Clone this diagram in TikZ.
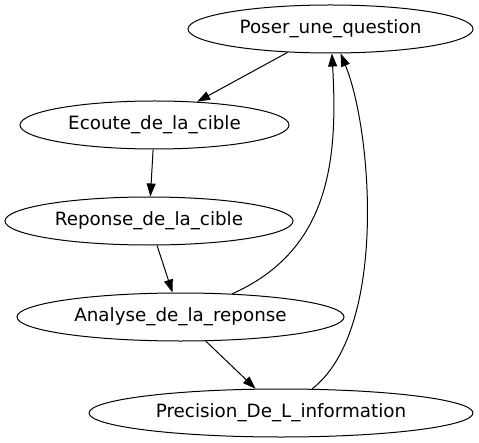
\documentclass[tikz,border=0pt]{standalone}
\usepackage{fontspec}
\setmainfont{DejaVu Sans}
\usepackage{tikz}
\usetikzlibrary{arrows.meta,shapes.geometric}
\tikzset{
  state/.style={draw, ellipse, inner sep=0pt, line width=1bp, minimum height=48bp, font=\fontsize{18.3bp}{22bp}\selectfont},
  edge/.style={-{Triangle[length=13bp,width=9bp]}, line width=1bp}
}

\begin{document}
\begin{tikzpicture}[x=1bp, y=-1bp]
    \useasboundingbox (0,0) rectangle (479,443);
    \node [state, minimum width=285bp] (poser) at (330.5,29) {Poser\_une\_question};
    \node [state, minimum width=269bp] (ecoute) at (154.5,125) {Ecoute\_de\_la\_cible};
    \node [state, minimum width=288bp] (reponse) at (149,221) {Reponse\_de\_la\_cible};
    \node [state, minimum width=327bp] (analyse) at (180.5,317) {Analyse\_de\_la\_reponse};
    \node [state, minimum width=384bp] (precision) at (281,413) {Precision\_De\_L\_information};

    \draw [edge] (poser) -- (ecoute);
    \draw [edge] (ecoute) -- (reponse);
    \draw [edge] (reponse) -- (analyse);
    \draw [edge] (analyse) -- (precision);
    \draw [edge] (analyse) .. controls (330,250) and (338,160) .. (poser);
    \draw [edge] (precision) .. controls (388,330) and (372,130) .. (poser);
\end{tikzpicture}
\end{document}
